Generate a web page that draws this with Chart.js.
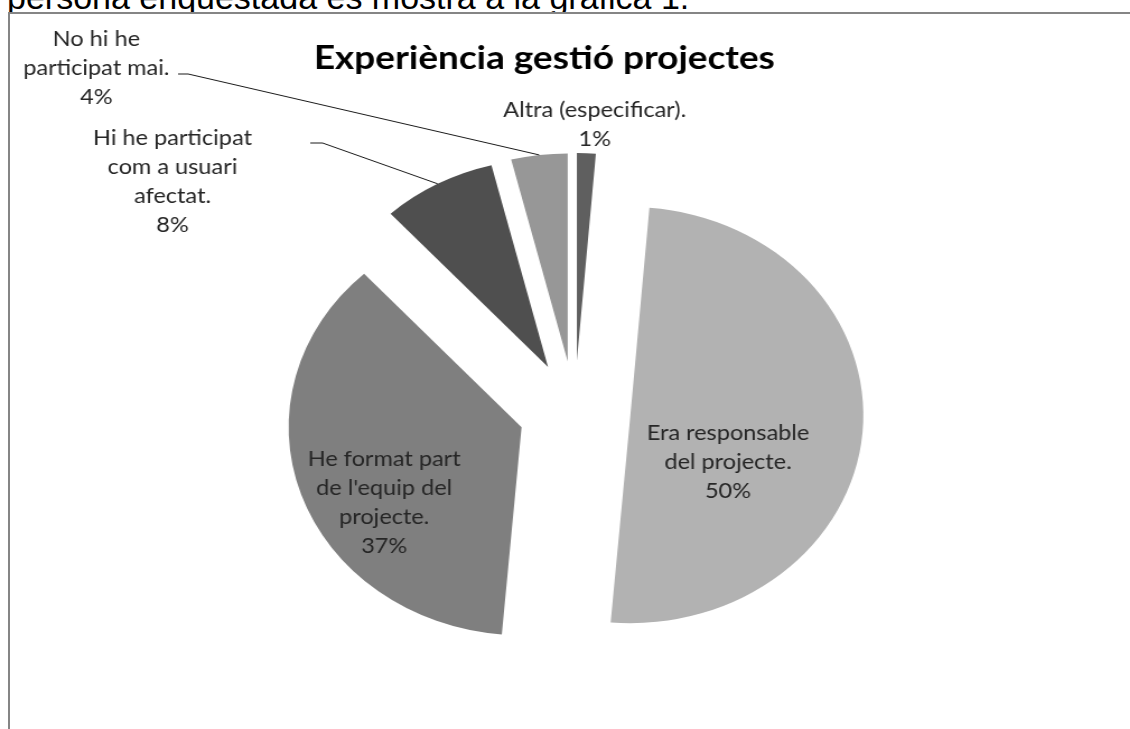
<!DOCTYPE html>
<html>
<head>
<meta charset="utf-8">
<script src="https://cdn.jsdelivr.net/npm/chart.js@4.4.1/dist/chart.umd.min.js"></script>
<style>
  body { margin: 0; background: #fff; overflow: hidden; }
  #page { position: relative; width: 1130px; height: 729px; overflow: hidden; }
  #intro { position: absolute; left: 7px; top: -20px; font: 34px "Liberation Sans", Arial, sans-serif; line-height: 34px; color: #000; white-space: nowrap; }
  #frame { position: absolute; left: 8px; top: 12px; width: 1200px; height: 800px; border-left: 2px solid #858585; border-top: 2px solid #858585; background: #fff; }
  #wrap { position: absolute; left: 0; top: 0; width: 1009px; height: 729px; transform: scaleX(1.12); transform-origin: 0 0; }
  canvas { display: block; }
</style>
</head>
<body>
<div id="page">
  <div id="intro">persona enquestada es mostra a la gràfica 1.</div>
  <div id="frame"></div>
  <div id="wrap"><canvas id="chart" width="1009" height="729"></canvas></div>
</div>
<script>
"use strict";

// data
const categories = [
  ["Altra (especificar)."],
  ["Era responsable", "del projecte."],
  ["He format part", "de l'equip del", "projecte."],
  ["Hi he participat", "com a usuari", "afectat."],
  ["No hi he", "participat mai."],
];
const shares = [1.3, 50.0, 36.8, 7.9, 3.9];
const chartTitle = "Experiència gestió projectes";

// looks
const sliceColors = ["#5f5f5f", "#b2b2b2", "#7f7f7f", "#4f4f4f", "#979797"];
const explode = 50;
const lineGap = 29;
// label block centre, relative to the pie centre
const labelSpots = [[18, -286], [137, 51], [-170, 92], [-359, -229], [-427, -343]];
// leader line start (x, y, short flat part), relative to the pie centre
const leaderSpots = [null, null, null, [-236, -268, 11], [-354, -337, 9]];

const explodePlugin = {
  id: "explode",
  afterDatasetUpdate(chart, args) {
    const meta = chart.getDatasetMeta(args.index);
    meta.data.forEach((arc) => {
      const mid = (arc.startAngle + arc.endAngle) / 2;
      arc.x += Math.cos(mid) * explode;
      arc.y += Math.sin(mid) * explode;
    });
  },
};

const labelPlugin = {
  id: "sliceLabels",
  afterDraw(chart) {
    const ctx = chart.ctx;
    const area = chart.chartArea;
    const cx = (area.left + area.right) / 2;
    const cy = (area.top + area.bottom) / 2;
    const meta = chart.getDatasetMeta(0);
    const total = shares.reduce((a, b) => a + b, 0);

    ctx.save();
    ctx.font = "21px Lato";
    ctx.fillStyle = "#262626";
    ctx.textAlign = "center";
    ctx.textBaseline = "middle";
    meta.data.forEach((arc, i) => {
      const lines = categories[i].concat(Math.round((shares[i] / total) * 100) + "%");
      const [lx, ly] = labelSpots[i];
      const top = cy + ly - ((lines.length - 1) * lineGap) / 2;
      lines.forEach((t, k) => ctx.fillText(t, cx + lx, top + k * lineGap));

      const lead = leaderSpots[i];
      if (lead) {
        const mid = (arc.startAngle + arc.endAngle) / 2;
        const ex = arc.x + Math.cos(mid) * arc.outerRadius;
        const ey = arc.y + Math.sin(mid) * arc.outerRadius;
        ctx.beginPath();
        ctx.moveTo(cx + lead[0], cy + lead[1]);
        ctx.lineTo(cx + lead[0] + lead[2], cy + lead[1]);
        ctx.lineTo(ex, ey);
        ctx.strokeStyle = "#1a1a1a";
        ctx.lineWidth = 1;
        ctx.stroke();
      }
    });

    ctx.font = "bold 33px Lato";
    ctx.fillStyle = "#000";
    ctx.fillText(chartTitle, 486, 58);
    ctx.restore();
  },
};

const config = {
  type: "pie",
  data: {
    labels: categories.map((c) => c.join(" ")),
    datasets: [
      {
        data: shares,
        backgroundColor: sliceColors,
        borderWidth: 0,
        clip: false,
      },
    ],
  },
  options: {
    responsive: false,
    animation: false,
    events: [],
    radius: 208,
    layout: { padding: { left: 17, top: 93, right: 0, bottom: 0 } },
    plugins: {
      legend: { display: false },
      tooltip: { enabled: false },
    },
  },
  plugins: [explodePlugin, labelPlugin],
};

const myChart = new Chart(document.getElementById("chart"), config);
</script>
</body>
</html>
